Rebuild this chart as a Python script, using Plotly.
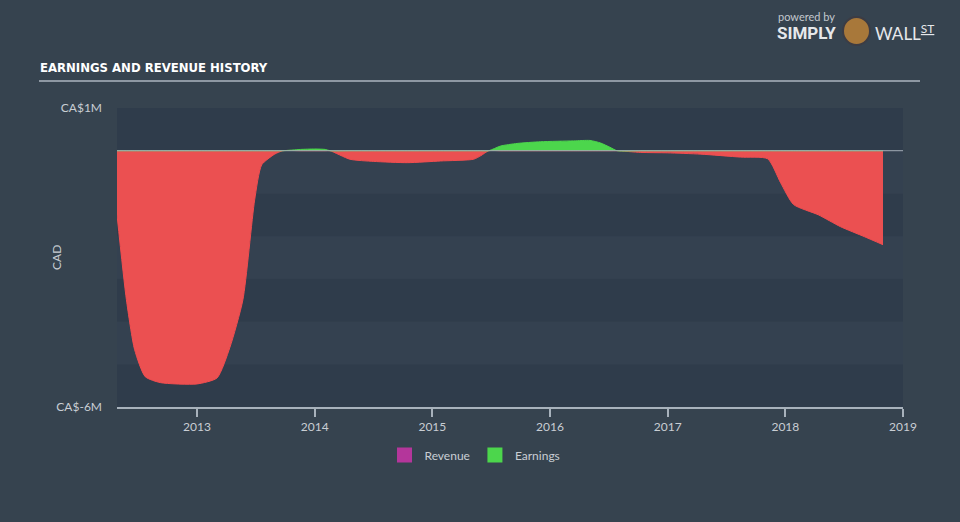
import plotly.graph_objects as go

# Earnings history (CA$ millions), x as decimal year
years = [2012.32, 2012.40, 2012.47, 2012.56, 2012.69, 2013.00, 2013.17, 2013.28, 2013.39,
         2013.49, 2013.55, 2013.66, 2013.73, 2013.88, 2014.00, 2014.09, 2014.13, 2014.30,
         2014.50, 2014.79, 2015.07, 2015.35, 2015.41, 2015.48, 2015.58, 2015.72, 2015.92,
         2016.20, 2016.34, 2016.43, 2016.51, 2016.57, 2016.77, 2017.00, 2017.28, 2017.62,
         2017.85, 2017.96, 2018.07, 2018.28, 2018.47, 2018.67, 2018.83]
earnings = [-1.50, -3.49, -4.66, -5.29, -5.43, -5.46, -5.32, -4.60, -3.49,
            -1.15, -0.33, -0.08, 0.00, 0.03, 0.04, 0.03, 0.00, -0.20,
            -0.25, -0.28, -0.24, -0.20, -0.12, 0.00, 0.11, 0.17, 0.21,
            0.23, 0.24, 0.18, 0.08, 0.00, -0.04, -0.05, -0.08, -0.15,
            -0.19, -0.75, -1.26, -1.50, -1.78, -2.01, -2.20]

tick_years = [2013, 2014, 2015, 2016, 2017, 2018, 2019]
y_ticks = [1, -6]
y_labels = ["CA$1M", "CA$-6M"]

RED = "#eb5051"
GREEN = "#4cd64c"
MAGENTA = "#b4369b"

neg = [min(v, 0) for v in earnings]
pos = [max(v, 0) for v in earnings]

fig = go.Figure()
fig.add_trace(go.Scatter(x=years, y=neg, mode="lines", fill="tozeroy",
                         line=dict(color="#f14d4f", width=1, shape="spline", smoothing=0.6),
                         fillcolor=RED, showlegend=False, hoverinfo="skip"))
fig.add_trace(go.Scatter(x=years, y=pos, mode="lines", fill="tozeroy",
                         line=dict(color=GREEN, width=1, shape="spline", smoothing=0.6),
                         fillcolor=GREEN, showlegend=False, hoverinfo="skip"))
# legend-only entries
fig.add_trace(go.Scatter(x=[None], y=[None], mode="markers", name="Revenue",
                         marker=dict(symbol="square", size=15, color=MAGENTA)))
fig.add_trace(go.Scatter(x=[None], y=[None], mode="markers", name="Earnings",
                         marker=dict(symbol="square", size=15, color=GREEN)))

def px(x):
    return (x - 117) / 786

def py(y):
    return (407 - y) / 299

shapes = []
# alternating horizontal bands, one per CA$1M
for k in range(-6, 1):
    shade = "#2f3c4b" if (k % 2 == 0) else "#344150"
    shapes.append(dict(type="rect", xref="paper", yref="y", x0=0, x1=1, y0=k, y1=k + 1,
                       fillcolor=shade, line=dict(width=0), layer="below"))
# zero line
shapes.append(dict(type="line", xref="paper", yref="y", x0=0, x1=1, y0=0, y1=0,
                   line=dict(color="#a3adb7", width=1.2), layer="above", opacity=0.8))
# title underline
shapes.append(dict(type="line", xref="paper", yref="paper", x0=px(39), x1=px(920),
                   y0=py(81), y1=py(81), line=dict(color="#8e98a3", width=2)))
# logo badge
shapes.append(dict(type="circle", xref="paper", yref="paper",
                   x0=px(843), x1=px(870), y0=py(45), y1=py(17),
                   fillcolor="#a8783a", line=dict(color="#3c3c44", width=2)))

annotations = [
    dict(text="<b>EARNINGS AND REVENUE HISTORY</b>", xref="paper", yref="paper",
         x=px(38), y=py(67), xanchor="left", yanchor="middle", showarrow=False,
         font=dict(family="DejaVu Sans Condensed, Roboto, sans-serif",
                   size=13, color="#ffffff")),
    dict(text="CAD", xref="paper", yref="paper", x=px(56), y=py(258),
         textangle=-90, showarrow=False, xanchor="center", yanchor="middle",
         font=dict(family="Lato", size=12, color="#c9ced4")),
    dict(text="powered by", xref="paper", yref="paper", x=px(776),
         y=py(16), xanchor="left", yanchor="middle", showarrow=False,
         font=dict(family="Lato", size=11, color="#c3c8ce")),
    dict(text="<b>SIMPLY</b>", xref="paper", yref="paper", x=px(775),
         y=py(33), xanchor="left", yanchor="middle", showarrow=False,
         font=dict(family="Roboto", size=17, color="#e6e8eb")),
    dict(text="WALL<sup><u>ST</u></sup>", xref="paper", yref="paper", x=px(873),
         y=py(33), xanchor="left", yanchor="middle", showarrow=False,
         font=dict(family="Lato", size=17, color="#e6e8eb")),
]

fig.update_layout(
    width=960, height=522,
    margin=dict(l=117, r=57, t=108, b=115),
    paper_bgcolor="#36434f", plot_bgcolor="#36434f",
    shapes=shapes, annotations=annotations,
    font=dict(family="Lato", color="#c9ced4", size=12),
    legend=dict(orientation="h", x=px(475), xanchor="center",
                y=-0.112, yanchor="top", font=dict(size=12, color="#c9ced4"),
                bgcolor="rgba(0,0,0,0)", itemclick=False, itemdoubleclick=False),
    xaxis=dict(range=[2012.32, 2019.0], tickvals=tick_years,
               ticktext=[str(y) for y in tick_years], showgrid=False, zeroline=False,
               showline=True, linecolor="#a8b2bc", linewidth=1.5, ticks="outside",
               ticklen=8, tickcolor="#a8b2bc", tickwidth=1.5,
               tickfont=dict(size=12, color="#c9ced4")),
    yaxis=dict(range=[-6, 1], tickvals=y_ticks, ticktext=y_labels, showgrid=False,
               zeroline=False, showline=False, ticks="", ticklabelstandoff=14,
               tickfont=dict(size=12, color="#c9ced4")),
)

fig.write_html("out.html")
